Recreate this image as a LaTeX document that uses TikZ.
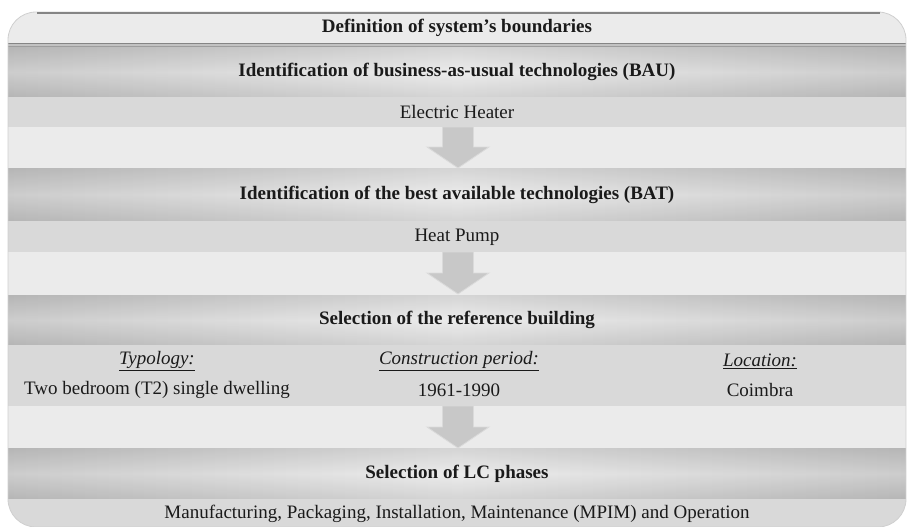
\documentclass[tikz,border=0pt]{standalone}
\usepackage{fontspec}
\setmainfont{Liberation Serif}
\definecolor{bandlight}{HTML}{EBEBEB}
\definecolor{bandmid}{HTML}{D9D9D9}
\definecolor{gedge}{HTML}{C2C2C2}
\definecolor{gcenter}{HTML}{E8E8E8}
\definecolor{arrowfill}{HTML}{C8C8C8}
\definecolor{arrowline}{HTML}{DADADA}
\definecolor{rulegray}{HTML}{858585}
\definecolor{framegray}{HTML}{CFCFCF}
\definecolor{textcol}{HTML}{1A1A1A}
\tikzset{
  lbl/.style={font=\fontsize{19}{22}\selectfont, text=textcol, inner sep=0pt, anchor=center},
  head/.style={lbl, font=\fontsize{19}{22}\selectfont\bfseries},
  gradband/.style={left color=gedge, right color=gedge, middle color=gcenter},
  gradshade/.style={top color=gray, bottom color=gray, middle color=white, fill opacity=0.18},
  blockarrow/.style={fill=arrowfill, draw=arrowline, line width=0.8pt, line join=miter},
}
\begin{document}
\begin{tikzpicture}[x=1pt,y=-1pt]
\useasboundingbox (0,0) rectangle (907,527);
\begin{scope}
\clip[rounded corners=28] (8,12) rectangle (906,527);
% bands
\fill[bandlight] (8,12) rectangle (906,43);
\fill[gedge] (8,43) rectangle (906,47);
\shade[gradband] (8,47) rectangle (906,97);
\shade[gradshade] (8,47) rectangle (906,97);
\fill[bandmid] (8,97) rectangle (906,127);
\fill[bandlight] (8,127) rectangle (906,168);
\shade[gradband] (8,168) rectangle (906,221);
\shade[gradshade] (8,168) rectangle (906,221);
\fill[bandmid] (8,221) rectangle (906,252);
\fill[bandlight] (8,252) rectangle (906,295);
\shade[gradband] (8,295) rectangle (906,345);
\shade[gradshade] (8,295) rectangle (906,345);
\fill[bandmid] (8,345) rectangle (906,406);
\fill[bandlight] (8,406) rectangle (906,448);
\shade[gradband] (8,448) rectangle (906,499);
\shade[gradshade] (8,448) rectangle (906,499);
\fill[bandmid] (8,499) rectangle (906,527);
% separator double rule
\draw[rulegray, line width=1.2pt] (8,43.2) -- (906,43.2);
\draw[rulegray!80, line width=1pt] (8,46.2) -- (906,46.2);
\end{scope}
% outer frame
\draw[framegray, line width=0.8pt, rounded corners=28] (8,12) rectangle (906,527);
\draw[rulegray, line width=1.4pt] (37,13) -- (880,13);
% block arrows
\filldraw[blockarrow] (442.5,127) -- (473.5,127) -- (473.5,147) -- (489,147) -- (458,168) -- (427,147) -- (442.5,147) -- cycle;
\filldraw[blockarrow] (442.5,252) -- (473.5,252) -- (473.5,273) -- (489,273) -- (458,294) -- (427,273) -- (442.5,273) -- cycle;
\filldraw[blockarrow] (442.5,406) -- (473.5,406) -- (473.5,427) -- (489,427) -- (458,448) -- (427,427) -- (442.5,427) -- cycle;
% texts
\node[head] (def) at (457,28) {Definition of system{\char"0027}s boundaries};
\node[head] (bau) at (457,72) {Identification of business-as-usual technologies (BAU)};
\node[lbl] (eh) at (457,112) {Electric Heater};
\node[head] (bat) at (457,195) {Identification of the best available technologies (BAT)};
\node[lbl] (hp) at (457,237) {Heat Pump};
\node[head] (ref) at (457,320) {Selection of the reference building};
\node[lbl] (typ) at (157,361) {\itshape\underline{Typology:}};
\node[lbl] (typv) at (157,390) {Two bedroom (T2) single dwelling};
\node[lbl] (con) at (459,361) {\itshape\underline{Construction period:}};
\node[lbl] (conv) at (459,390) {1961-1990};
\node[lbl] (loc) at (760,361) {\itshape\underline{Location:}};
\node[lbl] (locv) at (760,390) {Coimbra};
\node[head] (lc) at (457,474) {Selection of LC phases};
\node[lbl] (mp) at (457,514) {Manufacturing, Packaging, Installation, Maintenance (MPIM) and Operation};
\end{tikzpicture}
\end{document}
